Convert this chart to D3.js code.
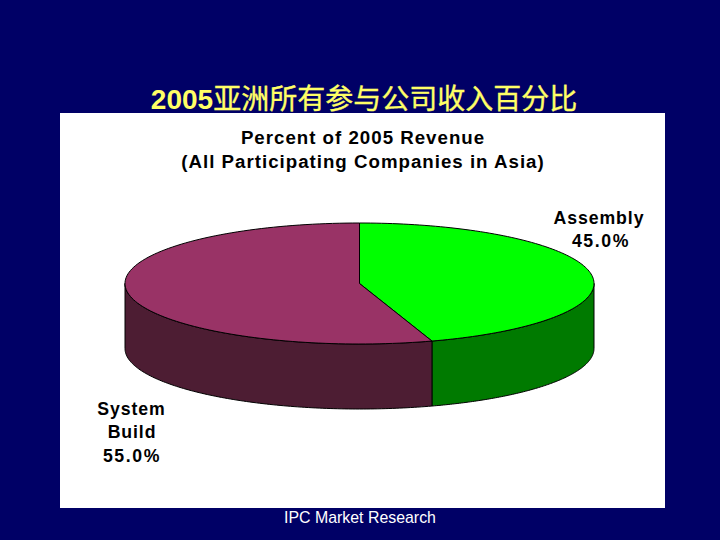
<!DOCTYPE html>
<html><head><meta charset="utf-8">
<script src="https://cdn.jsdelivr.net/npm/d3@7/dist/d3.min.js"></script>
<style>html,body{margin:0;padding:0;background:#000066}svg{display:block}</style>
</head><body><svg id="c" width="720" height="540"></svg>
<script>
const categories = ["Assembly", "System Build"];
const shares = [45.0, 55.0];
const topColors = ["#00ff00", "#993366"];
const sideColors = ["#007a00", "#4d1d33"];
const slideTitleYear = "2005";
const slideTitleRest = "亚洲所有参与公司收入百分比";
const chartTitle = ["Percent of 2005 Revenue", "(All Participating Companies in Asia)"];
const source = "IPC Market Research";

const svg = d3.select("#c");
svg.append("rect").attr("width",720).attr("height",540).attr("fill","#000066");

const st = svg.append("text").attr("x",364).attr("y",109).attr("text-anchor","middle")
  .attr("font-size",28).attr("fill","#ffff66");
st.append("tspan").attr("font-family","'Liberation Sans',sans-serif").attr("font-weight",700).text(slideTitleYear);
st.append("tspan").attr("font-family","'Noto Sans CJK SC',sans-serif").attr("font-weight",400)
  .attr("stroke","#ffff66").attr("stroke-width",0.35).text(slideTitleRest);

svg.append("rect").attr("x",60).attr("y",113).attr("width",605).attr("height",395).attr("fill","#fff");

const lab = (x,y,t,size,sp)=>svg.append("text").attr("x",x).attr("y",y).attr("text-anchor","middle")
  .attr("font-family","'Liberation Sans',Arial,sans-serif").attr("font-weight",700)
  .attr("font-size",size).attr("letter-spacing",sp).attr("fill","#000").text(t);

chartTitle.forEach((t,i)=>lab(363,144+i*23.5,t,18.7,1.0));

const cx=359.5, cy=283.5, rx=234.5, ry=60.5, depth=65;
const px=d3.scaleLinear().domain([-1,1]).range([cx-rx,cx+rx]);
const py=d3.scaleLinear().domain([-1,1]).range([cy-ry,cy+ry]);
const pie=d3.pie().sort(null).value(d=>d);
const arcs=pie(shares);
const sweep=(a,b)=>d3.range(0,121).map(i=>a+(b-a)*i/120);
const pt=(a,dz=0)=>[px(Math.sin(a)),py(-Math.cos(a))+dz];
const line=d3.line();
const lo=Math.PI/2, hi=3*Math.PI/2;

// side walls on the visible front half
arcs.forEach((d,i)=>{
  const a=Math.max(d.startAngle,lo), b=Math.min(d.endAngle,hi);
  if(b<=a) return;
  const pts=[...sweep(a,b).map(t=>pt(t)),...sweep(b,a).map(t=>pt(t,depth))];
  svg.append("path").attr("d",line(pts)+"Z").attr("fill",sideColors[i])
    .attr("stroke","#000").attr("stroke-width",1).attr("stroke-linejoin","round");
});
// top faces
arcs.forEach((d,i)=>{
  const pts=[[px(0),py(0)],...sweep(d.startAngle,d.endAngle).map(t=>pt(t))];
  svg.append("path").attr("d",line(pts)+"Z").attr("fill",topColors[i])
    .attr("stroke","#000").attr("stroke-width",1).attr("stroke-linejoin","round");
});

lab(599,223.5,categories[0],17.7,0.9);
lab(601,247,shares[0].toFixed(1)+"%",17.7,1.6);
lab(131.5,415,"System",17.7,0.9);
lab(132,438,"Build",17.7,0.9);
lab(132,461.5,shares[1].toFixed(1)+"%",17.7,1.6);

svg.append("text").attr("x",360).attr("y",523).attr("text-anchor","middle")
  .attr("font-family","'Liberation Sans',Arial,sans-serif").attr("font-size",15.9)
  .attr("fill","#fff").text(source);
</script></body></html>
